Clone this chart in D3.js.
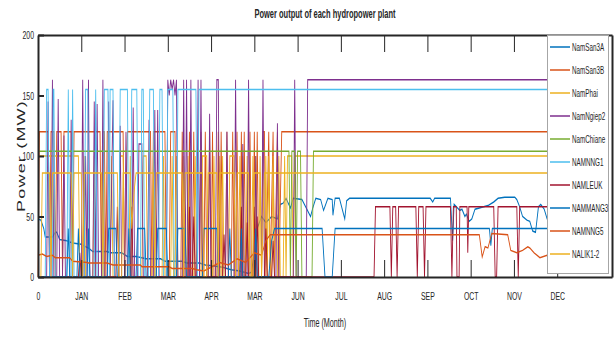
<!DOCTYPE html>
<html>
<head>
<meta charset="utf-8">
<script src="https://cdn.jsdelivr.net/npm/d3@7"></script>
<style>
  body { margin: 0; background: #fff; }
  text { font-family: "Liberation Sans", Arial, sans-serif; fill: #262626; }
</style>
</head>
<body>
<svg id="chart" width="614" height="338"></svg>
<script>
// ---- data ----
const seriesNames = ['NamSan3A', 'NamSan3B', 'NamPhai', 'NamNgiep2', 'NamChiane',
                     'NAMNNG1', 'NAMLEUK', 'NAMMANG3', 'NAMNNG5', 'NALIK1-2'];
const monthLabels = ['0', 'JAN', 'FEB', 'MAR', 'APR', 'MAR', 'JUN', 'JUL', 'AUG', 'SEP', 'OCT', 'NOV', 'DEC'];
const monthDays = [0, 30, 60, 90, 120, 150, 180, 210, 240, 270, 300, 330, 360];
const yTicks = [0, 50, 100, 150, 200];

// each series: [day, MW]
const namSan3A = [[0,48],[2,47],[4,40],[5,33],[10,33],[12,37],[13,37],[15,31],[20,30],[24,28],[30,27],[33,25],[35,24],[38,21],[48,21],[50,20],[58,20],[62,17],[68,17],[75,15],[85,15],[88,13],[100,13],[103,11.5],[112,11.5],[116,10],[122,9],[128,8],[134,6],[140,5],[146,3],[148,4],[150,20],[152,40],[155,50],[158,45],[162,50],[166,48],[168,60],[170,61],[172,65],[175,57],[177,65],[183,64],[189,50],[190.5,57],[192.6,65],[196,64],[198,55],[201,65],[204,64],[204.5,51],[206,65],[209,65],[212.7,48],[214,63],[216,65],[272,65],[273.7,62],[275,65],[286,65],[287.5,30],[288.5,60],[291,57],[292.4,55],[294,56],[296,50],[297,52],[299,46],[300.8,48],[303,56],[306,57],[309,58],[312,59],[316,62],[319,65],[323.6,66],[330.6,66],[332,64],[334,58],[336,50],[339,47],[341,46],[343,38],[345,37],[347,58],[348.6,60],[351,56],[353,48],[358,45],[365,45]];

const namSan3B = [[0,0],[1,120],[7,120],[8,0],[9,120],[11,120],[12,0],[13,120],[16,120],[17,0],[18,120],[23,120],[24,0],[25,120],[43,120],[44,0],[45,120],[46,120],[47,0],[48,120],[59,120],[60,0],[62,120],[78,120],[79,0],[80,120],[88,120],[89,0],[91,0],[92,120],[95,120],[96,0],[99,0],[100,120],[101,0],[104,0],[105,120],[106,0],[107,0],[108,120],[109,0],[112,0],[113,120],[114,0],[115,0],[116,120],[117,0],[118,0],[119,120],[120,0],[121,120],[122,0],[124,0],[125,120],[126,0],[127,120],[128,0],[130,0],[131,120],[132,0],[134,0],[135,120],[136,0],[137,0],[138,120],[139,0],[140,0],[141,120],[142,0],[143,120],[144,0],[146,0],[147,120],[148,0],[149,0],[150,120],[151,0],[152,120],[153,0],[155,0],[156,120],[157,120],[158,0],[160,120],[161,0],[163,120],[164,0],[166,120],[167,0],[169,120],[365,120]];

const namPhai = [[0,100],[28,100],[29,0],[31,0],[32,100],[33,0],[38,0],[39,100],[40,0],[44,0],[45,100],[46,0],[50,0],[51,100],[52,0],[56,0],[57,100],[59,100],[60,0],[63,0],[64,100],[65,0],[72,0],[73,100],[75,100],[76,0],[79,0],[80,100],[81,0],[86,0],[87,100],[88,0],[92,0],[93,100],[94,0],[95,0],[96,100],[97,0],[100,0],[101,100],[102,0],[103,0],[104,100],[105,0],[108,0],[109,100],[110,0],[113,0],[114,100],[117,100],[118,0],[121,0],[122,100],[123,0],[125,0],[126,100],[127,0],[128,100],[129,0],[132,0],[133,100],[136,100],[137,0],[139,0],[140,100],[141,0],[142,100],[143,0],[144,0],[145,100],[146,0],[148,0],[149,100],[150,0],[151,100],[152,0],[153,0],[154,100],[155,0],[157,0],[158,100],[159,0],[160,100],[161,0],[162,0],[163,100],[164,0],[166,0],[167,100],[168,0],[170,0],[171,100],[172,0],[173,100],[176,100],[177,0],[178,100],[365,100]];

const namNgiep2 = [[0,0],[6,0],[7,145],[8,0],[9,0],[10,163],[11,0],[13,0],[14,147],[15,0],[17,0],[18,117],[19,0],[22,0],[23,130],[24,0],[30,0],[31,163],[32,0],[33,100],[34,0],[35,163],[36,0],[38,0],[39,145],[40,0],[41,143],[42,0],[44,0],[45,163],[46,0],[48,0],[49,145],[50,0],[52,146],[53,0],[56,0],[57,125],[58,0],[60,0],[61,120],[62,0],[65,0],[66,140],[67,0],[69,0],[70,110],[72,110],[73,0],[76,0],[77,130],[78,0],[80,0],[81,138],[82,0],[83,138],[84,0],[89,0],[90,163],[91,150],[92,163],[93,155],[94,163],[95,150],[96,163],[97,0],[100,0],[101,163],[102,0],[103,163],[104,0],[105,0],[106,163],[107,0],[110,0],[111,163],[112,0],[113,163],[114,0],[118,0],[119,135],[120,0],[123,0],[124,163],[125,163],[126,0],[130,0],[131,120],[132,0],[136,0],[137,163],[138,0],[141,0],[142,110],[143,0],[145,0],[146,163],[147,0],[150,0],[151,100],[152,0],[155,0],[156,163],[157,0],[165,0],[166,127],[167,0],[177,0],[178,163],[179,0],[186,0],[187,163],[365,163]];

const namChiane = [[0,104],[174,104],[175,0],[176,104],[178,104],[179,0],[180,104],[182,104],[183,0],[190,0],[191,104],[365,104]];

const namNNG1 = [[0,0],[5,0],[6,155],[7,155],[8,0],[10,0],[10.5,155],[11,155],[12,0],[20,0],[21,155],[22,0],[23,0],[24,155],[25,0],[32,0],[33,155],[34.5,155],[35.5,0],[39,0],[40,155],[41,0],[45,0],[46,155],[48.5,155],[49.5,0],[50,155],[52,155],[53,0],[56,0],[57,155],[62,155],[63,0],[64,0],[65,155],[68.5,155],[69.5,0],[71,0],[72,155],[73,155],[74,0],[76.5,0],[77.5,155],[80,155],[81,0],[83.5,0],[84.5,155],[86,155],[87,0],[89,0],[90,155],[93.5,155],[94.5,0],[96,0],[97,155],[109.5,155],[110.5,0],[111.6,155],[365,155]];

const namLeuk = [[0,0],[28,0],[29,20],[30,0],[54,0],[55,58],[56,0],[64,0],[65,58],[66,0],[104,0],[105,58],[106,0],[107,0],[108,50],[109,0],[128,0],[129,35],[130,0],[140,0],[141,58],[142,0],[144,0],[145,45],[146,0],[149,0],[150,58],[151,0],[152,50],[153,0],[157,0],[158,40],[159,0],[162,0],[163,30],[164,0],[233,0],[234,58],[244,58],[245,0],[246,58],[248,58],[249,0],[250,58],[262,58],[263,0],[264,58],[267,58],[268,0],[269,58],[286,58],[287,0],[288,58],[290,58],[290.5,0],[292,0],[292.5,58],[297.5,58],[298,20],[298.7,58],[316,58],[317,0],[318,0],[319,58],[332,58],[333,0],[334,58],[365,58]];

const namMang3 = [[0,0],[20,0],[21,40],[22,0],[27,0],[28,40],[29,0],[34,0],[35,40],[36,0],[48,0],[49,40],[54,40],[55,0],[62,0],[63,40],[64,0],[68,0],[69,40],[74,40],[75,0],[82,0],[83,40],[89,40],[90,0],[96,0],[97,40],[102,40],[103,0],[114,0],[115,40],[124,40],[125,0],[132,0],[133,40],[134,0],[140,0],[141,40],[142,0],[150,0],[151,40],[152,0],[160,0],[162,30],[164,40],[197,40],[199,0],[204,0],[206,40],[313,40],[314,26],[315,40],[365,40]];

const namNNG5 = [[0,18],[3,19],[6,17],[10,18],[12,16],[22,16],[24,13],[34,12],[35,11.5],[48,11.5],[52,10],[71,10],[72,8.5],[91,8.5],[93,7],[107,7],[110,6],[115,5],[120,8],[126,12],[132,10],[138,15],[144,12],[150,20],[155,18],[158,30],[161,35],[306,35],[308,16.5],[310,25],[312,24],[314.6,36],[325.7,35],[327.8,22],[332,20],[336,22],[339.6,25],[341,24],[344,20],[348,16],[353,18],[358,16],[365,17]];

const nalik12 = [[0,0],[2,0],[3,86],[8,86],[9,0],[10,86],[23,86],[24,0],[25,86],[30,86],[31,0],[32,86],[44,86],[45,0],[46,86],[55,86],[56,0],[58,0],[59,86],[64,86],[65,40],[66,60],[67,75],[68,86],[80,86],[81,0],[82,86],[100,86],[101,0],[102,86],[114,86],[115,0],[117,0],[118,86],[124,86],[125,0],[126,86],[136,86],[137,0],[138,86],[146,86],[147,0],[149,0],[150,86],[154,86],[155,0],[157,86],[365,86]];

const seriesData = [namSan3A, namSan3B, namPhai, namNgiep2, namChiane, namNNG1, namLeuk, namMang3, namNNG5, nalik12];
const colors = ['#0072BD', '#D95319', '#EDB120', '#7E2F8E', '#77AC30', '#4DBEEE', '#A2142F', '#0072BD', '#D95319', '#EDB120'];

// ---- chart ----
const svg = d3.select('#chart');
const squeeze = 0.6; // the picture is squeezed horizontally: text and vertical strokes look narrow
const axisColor = '#262626';

const x = d3.scaleLinear().domain([0, 398]).range([38, 612]);
const y = d3.scaleLinear().domain([0, 200]).range([277, 35]);

// draw lines in an unsqueezed space and squeeze the group, so near-vertical strokes get thinner
const line = d3.line().x(d => x(d[0]) / squeeze).y(d => y(d[1]));

svg.append('g')
  .attr('transform', `scale(${squeeze},1)`)
  .selectAll('path')
  .data(seriesData)
  .join('path')
  .attr('d', line)
  .attr('fill', 'none')
  .attr('stroke', (d, i) => colors[i])
  .attr('stroke-width', 1.5);

// bottom axis
const xAxis = svg.append('g')
  .attr('transform', 'translate(0,277)')
  .attr('color', axisColor)
  .call(d3.axisBottom(x).tickValues(monthDays).tickFormat((d, i) => monthLabels[i])
    .tickSizeInner(-17).tickSizeOuter(0).tickPadding(15));
xAxis.select('.domain').attr('stroke-width', 2);
xAxis.selectAll('text').attr('font-size', 11.5).attr('transform', `scale(${squeeze},1)`);

// top axis
const topAxis = svg.append('g')
  .attr('transform', 'translate(0,35)')
  .attr('color', axisColor)
  .call(d3.axisTop(x).tickValues(monthDays).tickFormat('').tickSizeInner(-17).tickSizeOuter(0));
topAxis.select('.domain').attr('stroke-width', 2);

// left axis
const yAxis = svg.append('g')
  .attr('transform', 'translate(38,0)')
  .attr('color', axisColor)
  .call(d3.axisLeft(y).tickValues(yTicks).tickSizeInner(-6).tickSizeOuter(0).tickPadding(4));
yAxis.select('.domain').attr('stroke-width', 2);
yAxis.selectAll('.tick line').attr('stroke-width', 2);
yAxis.selectAll('text').attr('font-size', 11.5)
  .attr('x', -4 / squeeze)
  .attr('transform', `scale(${squeeze},1)`);

// right edge
svg.append('g')
  .attr('transform', 'translate(612,0)')
  .attr('color', axisColor)
  .call(d3.axisRight(y).tickValues([]).tickSizeOuter(0))
  .select('.domain').attr('stroke-width', 2);

// titles
svg.append('text')
  .attr('transform', `translate(325,18) scale(${squeeze},1)`)
  .attr('text-anchor', 'middle')
  .attr('font-size', 12.5)
  .attr('font-weight', 'bold')
  .text('Power output of each hydropower plant');

svg.append('text')
  .attr('transform', `translate(325,327) scale(${squeeze},1)`)
  .attr('text-anchor', 'middle')
  .attr('font-size', 12)
  .text('Time (Month)');

svg.append('text')
  .attr('transform', `translate(25,156) scale(${squeeze},1) rotate(-90)`)
  .attr('text-anchor', 'middle')
  .attr('font-size', 18)
  .attr('letter-spacing', 1.2)
  .text('Power (MW)');

// legend
const legend = svg.append('g');
legend.append('rect')
  .attr('x', 547.5).attr('y', 35.5)
  .attr('width', 61).attr('height', 238)
  .attr('fill', '#fff')
  .attr('stroke', '#a6a6a6')
  .attr('stroke-width', 1);

const rows = legend.selectAll('g.row')
  .data(seriesNames)
  .join('g')
  .attr('class', 'row')
  .attr('transform', (d, i) => `translate(0,${47 + i * 23})`);
rows.append('line')
  .attr('x1', 550).attr('x2', 570)
  .attr('stroke', (d, i) => colors[i])
  .attr('stroke-width', 1.5);
rows.append('text')
  .attr('transform', `translate(572,3.5) scale(${squeeze},1)`)
  .attr('font-size', 10.5)
  .text(d => d);
</script>
</body>
</html>
